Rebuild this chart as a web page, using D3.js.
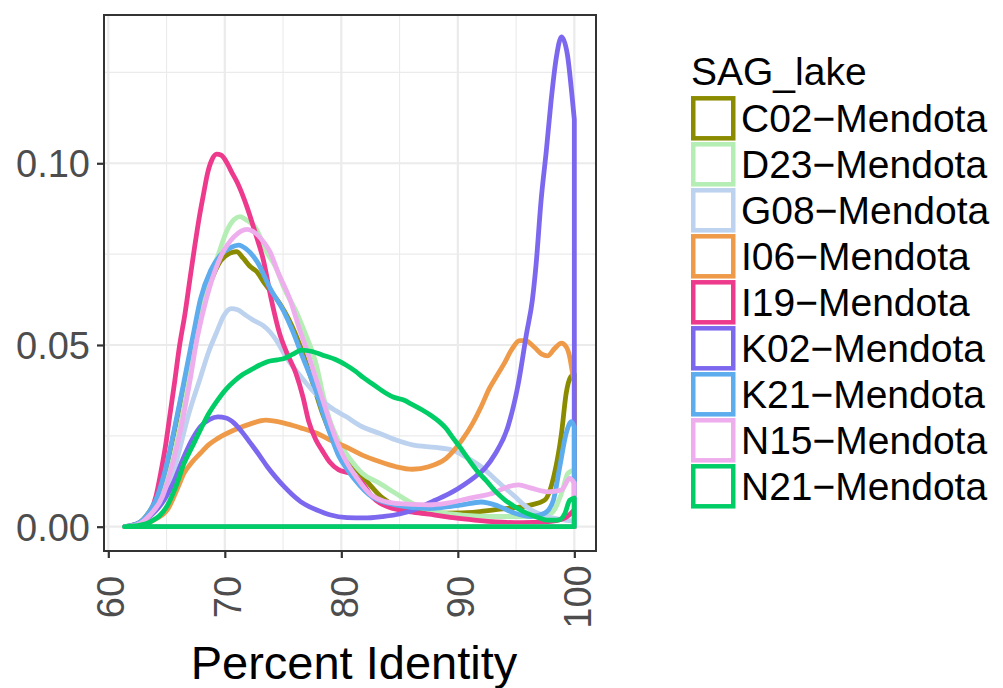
<!DOCTYPE html>
<html>
<head>
<meta charset="utf-8">
<script src="https://cdn.jsdelivr.net/npm/d3@7"></script>
<style>
  body { margin: 0; background: #fff; }
  text { font-family: "Liberation Sans", Arial, Helvetica, sans-serif; }
</style>
</head>
<body>
<div id="chart"></div>
<script>
// ---------- data ----------
const sagLake = ["C02\u2212Mendota", "D23\u2212Mendota", "G08\u2212Mendota", "I06\u2212Mendota",
  "I19\u2212Mendota", "K02\u2212Mendota", "K21\u2212Mendota", "N15\u2212Mendota", "N21\u2212Mendota"];
const lineColors = ["#8B8B00", "#B4EEB4", "#BCD2EE", "#EE9A49", "#EE3A8C", "#7B68EE", "#5CACEE", "#EEAEEE", "#00CD66"];
const xTicks = [60, 70, 80, 90, 100];
const xMinor = [65, 75, 85, 95];
const yTicks = [0, 0.05, 0.10];
const yMinor = [0.025, 0.075, 0.125];
const identityRange = [61.4, 100];

// [percent identity, density]
const c02 = [[61.4,0],[62.5,0.0008],[63.5,0.004],[64.2,0.008],[65,0.0165],[65.65,0.026],[66.5,0.039],[67.3,0.051],
  [67.9,0.059],[68.8,0.0675],[69.65,0.0732],[70.4,0.0752],[71.0,0.0757],[71.6,0.0738],[72.2,0.0715],[72.7,0.0703],
  [73.4,0.067],[74.0,0.0645],[74.7,0.0615],[75.5,0.057],[76.5,0.0495],[77.5,0.040],[78.4,0.031],[79.3,0.024],
  [80.4,0.018],[80.95,0.0168],[82.1,0.0128],[83.5,0.008],[85,0.0052],[87.5,0.0037],[90.35,0.0038],[93.25,0.0047],
  [96.3,0.006],[97.45,0.0073],[98.3,0.0147],[98.9,0.0257],[99.3,0.0367],[99.7,0.0413],[100,0.042]];
const d23 = [[61.4,0],[62.5,0.0006],[63.5,0.003],[64.6,0.0085],[65.5,0.018],[66.2,0.028],[67,0.042],[67.6,0.053],
  [68.2,0.062],[68.8,0.069],[69.4,0.0745],[70.2,0.0816],[70.8,0.0845],[71.3,0.0853],[71.8,0.0845],[72.6,0.0824],
  [73.65,0.0752],[74.4,0.0712],[75.1,0.0655],[76.2,0.0587],[76.8,0.054],[77.9,0.044],[78.4,0.0367],[79,0.0294],
  [79.7,0.024],[80.4,0.0202],[81.1,0.0172],[81.8,0.0147],[83.25,0.012],[84.65,0.0092],[86.1,0.0064],[87.5,0.0046],
  [88.9,0.0037],[90.35,0.0032],[93.2,0.0028],[96.3,0.0028],[98,0.0037],[98.9,0.0092],[99.45,0.0147],[100,0.0156]];
const g08 = [[61.4,0],[62.5,0.0005],[63.5,0.0025],[64.2,0.005],[64.9,0.0083],[65.8,0.0174],[66.9,0.031],[67.9,0.041],
  [68.6,0.048],[69.3,0.0535],[69.9,0.058],[70.55,0.060],[71.1,0.0597],[71.65,0.0585],[72.4,0.0569],[73.3,0.0553],
  [73.9,0.0535],[74.4,0.0514],[75.2,0.047],[75.9,0.0438],[76.6,0.041],[77.5,0.0376],[79.0,0.033],[80.4,0.0303],
  [81.8,0.0275],[83.25,0.0257],[84.65,0.0239],[86.1,0.0225],[88.1,0.0218],[89.5,0.0211],[90.4,0.0197],[91.2,0.0182],
  [92.0,0.0165],[93.3,0.0128],[94.1,0.0105],[94.9,0.0083],[95.6,0.0062],[96.3,0.0046],[97.7,0.0028],[99.2,0.0018],[100,0.0015]];
const i06 = [[61.4,0],[63,0.0006],[64,0.002],[65.1,0.0048],[66,0.011],[66.5,0.0147],[67.2,0.0178],[67.9,0.0202],
  [68.6,0.0225],[69.4,0.0243],[70.8,0.0266],[72.2,0.0283],[73.5,0.0293],[75.1,0.0285],[76.5,0.0272],[77.9,0.0257],
  [79,0.0239],[80.5,0.0218],[81.8,0.0197],[83.2,0.018],[84.7,0.0165],[86.1,0.0158],[87.5,0.0165],[89,0.0188],
  [90.4,0.024],[91.2,0.028],[92,0.033],[92.7,0.038],[93.4,0.0418],[94.0,0.045],[94.6,0.0486],[95.3,0.0512],
  [95.8,0.0512],[96.6,0.0493],[97.2,0.0475],[97.7,0.047],[98.3,0.049],[98.9,0.0505],[99.3,0.0495],[99.6,0.0468],
  [99.85,0.0422],[100,0.040]];
const i19 = [[61.4,0],[62.5,0.0004],[63,0.0012],[63.6,0.004],[64.1,0.0085],[64.5,0.0148],[64.9,0.022],[65.3,0.031],
  [65.7,0.040],[66.1,0.0495],[66.6,0.059],[67.0,0.068],[67.4,0.0768],[67.8,0.085],[68.2,0.092],[68.5,0.097],
  [68.9,0.101],[69.3,0.1025],[69.7,0.1022],[70.2,0.100],[70.6,0.0975],[71.1,0.0945],[71.9,0.088],[72.6,0.081],
  [73.3,0.0735],[74.0,0.0624],[74.7,0.0532],[75.3,0.048],[76.1,0.0422],[76.7,0.0358],[77.2,0.029],[77.8,0.024],
  [78.35,0.021],[79.0,0.0178],[79.75,0.0157],[80.4,0.015],[80.9,0.0146],[81.75,0.0122],[82.65,0.0082],[83.3,0.0065],
  [84.05,0.0054],[86.15,0.004],[88.05,0.0032],[89.75,0.0024],[91.45,0.0018],[93.25,0.0013],[95.5,0.0011],
  [97.5,0.0013],[99.2,0.0024],[100,0.0046]];
const k02 = [[61.4,0],[62.5,0.0008],[63.6,0.003],[64.5,0.006],[65.5,0.0115],[66.5,0.0193],[67.2,0.024],[67.9,0.0275],
  [68.7,0.0295],[69.4,0.0302],[70.1,0.0299],[70.8,0.0285],[71.5,0.026],[72.2,0.023],[73,0.0195],[73.65,0.0165],
  [74.4,0.0135],[75.1,0.011],[75.8,0.0088],[76.5,0.0069],[77.2,0.0056],[77.9,0.0046],[79,0.0033],[80.5,0.0025],
  [82,0.0024],[83.5,0.0028],[85,0.0035],[86.2,0.0046],[88,0.0072],[89.5,0.0095],[90.5,0.0115],[91.5,0.0138],
  [92.3,0.016],[93.2,0.020],[94.3,0.0275],[95.2,0.0395],[95.9,0.0532],[96.4,0.0624],[96.7,0.0715],[97.15,0.0899],
  [97.6,0.1036],[98,0.117],[98.45,0.129],[98.9,0.1348],[99.4,0.130],[99.85,0.117],[100,0.112]];
const k21 = [[61.4,0],[62.5,0.0008],[63.5,0.004],[64.2,0.0083],[65,0.017],[65.65,0.0266],[66.5,0.040],[67.3,0.053],
  [67.9,0.0625],[68.8,0.0706],[69.65,0.0748],[70.5,0.0768],[71.2,0.0775],[71.8,0.0765],[72.8,0.0728],[73.9,0.0655],
  [75.1,0.059],[75.8,0.054],[76.7,0.0465],[77.9,0.0367],[78.4,0.0315],[79.1,0.025],[79.8,0.0193],[80.5,0.0158],
  [81.2,0.0128],[82.6,0.0083],[84.65,0.006],[87.5,0.005],[90.35,0.006],[92.0,0.0068],[93.45,0.0057],[94.9,0.0037],
  [96.3,0.0028],[97.45,0.0037],[98.2,0.0073],[98.75,0.0165],[99.3,0.0257],[99.75,0.0289],[100,0.0275]];
const n15 = [[61.4,0],[62.5,0.0006],[63.5,0.003],[64.65,0.0083],[65.5,0.017],[66.2,0.0266],[67,0.040],[67.6,0.0514],
  [68.1,0.0587],[68.8,0.067],[69.65,0.0743],[70.8,0.0798],[71.9,0.0818],[72.7,0.0806],[73.4,0.078],[73.9,0.0755],
  [74.5,0.0705],[75.6,0.0625],[76.5,0.0535],[77.0,0.049],[77.6,0.043],[78.4,0.035],[79.1,0.028],[79.8,0.022],
  [80.5,0.0175],[81.25,0.0138],[82.65,0.0085],[84.65,0.0064],[87.5,0.006],[88.95,0.0064],[90.95,0.0078],
  [93.25,0.0095],[94.3,0.011],[95.2,0.0115],[96.3,0.0106],[97.7,0.0096],[98.9,0.0101],[99.6,0.0133],[100,0.012]];
const n21 = [[61.4,0],[62.5,0.0003],[63.65,0.0014],[64.4,0.003],[65.1,0.006],[65.8,0.011],[66.5,0.0174],[67.2,0.022],
  [67.9,0.0266],[68.6,0.031],[69.4,0.0349],[70.1,0.0378],[70.8,0.040],[71.5,0.0418],[72.2,0.0431],[73.0,0.0445],
  [73.65,0.0454],[74.5,0.0459],[75.1,0.0463],[75.8,0.0474],[76.6,0.0486],[77.5,0.0482],[78.4,0.0472],[79.5,0.046],
  [80.4,0.0445],[81.2,0.0428],[81.9,0.041],[82.8,0.039],[83.8,0.0368],[84.5,0.0356],[85.3,0.0349],[86.1,0.0336],
  [86.95,0.0321],[87.7,0.0306],[88.4,0.0289],[89,0.027],[89.5,0.0248],[90.2,0.0218],[90.95,0.0184],[91.7,0.0152],
  [92.4,0.0128],[93.3,0.0095],[94.1,0.0072],[94.9,0.0055],[95.6,0.0042],[96.3,0.0032],[97.0,0.0024],[97.7,0.0018],
  [98.6,0.0018],[99.2,0.0037],[99.6,0.0073],[100,0.0079]];

const densities = [c02, d23, g08, i06, i19, k02, k21, n15, n21];

// ---------- layout ----------
const width = 1003, height = 688;
const panel = {left: 104, right: 596, top: 15, bottom: 551};

const x = d3.scaleLinear().domain([59.63, 101.86]).range([panel.left, panel.right]);
const y = d3.scaleLinear().domain([-0.00669, 0.1408]).range([panel.bottom, panel.top]);

const svg = d3.select("#chart").append("svg")
  .attr("width", width)
  .attr("height", height)
  .style("background", "#fff");

// grid
const grid = svg.append("g");
grid.selectAll("line.xminor").data(xMinor).join("line")
  .attr("x1", d => x(d)).attr("x2", d => x(d))
  .attr("y1", panel.top).attr("y2", panel.bottom)
  .attr("stroke", "#EBEBEB").attr("stroke-width", 1.1);
grid.selectAll("line.yminor").data(yMinor).join("line")
  .attr("x1", panel.left).attr("x2", panel.right)
  .attr("y1", d => y(d)).attr("y2", d => y(d))
  .attr("stroke", "#EBEBEB").attr("stroke-width", 1.1);
grid.selectAll("line.xmajor").data(xTicks).join("line")
  .attr("x1", d => x(d)).attr("x2", d => x(d))
  .attr("y1", panel.top).attr("y2", panel.bottom)
  .attr("stroke", "#EBEBEB").attr("stroke-width", 2.2);
grid.selectAll("line.ymajor").data(yTicks).join("line")
  .attr("x1", panel.left).attr("x2", panel.right)
  .attr("y1", d => y(d)).attr("y2", d => y(d))
  .attr("stroke", "#EBEBEB").attr("stroke-width", 2.2);

// density outlines (closed polygons like geom_density)
const line = d3.line()
  .x(d => x(d[0]))
  .y(d => y(d[1]))
  .curve(d3.curveMonotoneX);

svg.append("g").selectAll("path")
  .data(densities)
  .join("path")
  .attr("d", d => line(d) + `L${x(identityRange[1])},${y(0)}L${x(identityRange[0])},${y(0)}Z`)
  .attr("fill", "none")
  .attr("stroke", (d, i) => lineColors[i])
  .attr("stroke-width", 4.8)
  .attr("stroke-linejoin", "round");

// panel border
svg.append("rect")
  .attr("x", panel.left).attr("y", panel.top)
  .attr("width", panel.right - panel.left).attr("height", panel.bottom - panel.top)
  .attr("fill", "none").attr("stroke", "#333333").attr("stroke-width", 2);

// axes
const xAxis = svg.append("g")
  .attr("transform", `translate(0,${panel.bottom})`)
  .call(d3.axisBottom(x).tickValues(xTicks).tickSize(7).tickPadding(0).tickFormat(d3.format("d")));
const yAxis = svg.append("g")
  .attr("transform", `translate(${panel.left},0)`)
  .call(d3.axisLeft(y).tickValues(yTicks).tickSize(7).tickPadding(7).tickFormat(d3.format(".2f")));

[xAxis, yAxis].forEach(a => {
  a.select(".domain").remove();
  a.selectAll(".tick line").attr("stroke", "#333333").attr("stroke-width", 2.2);
  a.selectAll(".tick text").attr("fill", "#4D4D4D").style("font-size", "38px");
});
yAxis.selectAll(".tick text").attr("dy", "0.36em");
xAxis.selectAll(".tick text")
  .attr("transform", "translate(2,46) rotate(-90)")
  .attr("text-anchor", "middle")
  .attr("y", 0).attr("dy", "0.36em");

svg.append("text")
  .attr("x", (panel.left + panel.right) / 2 + 4)
  .attr("y", 679)
  .attr("text-anchor", "middle")
  .attr("fill", "#000")
  .style("font-size", "47px")
  .text("Percent Identity");

// legend
const legend = svg.append("g").attr("transform", "translate(691,0)");
legend.append("text")
  .attr("x", 0).attr("y", 85)
  .style("font-size", "39px")
  .attr("fill", "#000")
  .text("SAG_lake");

const item = legend.selectAll("g.item").data(sagLake).join("g")
  .attr("class", "item")
  .attr("transform", (d, i) => `translate(0,${118.3 + i * 46})`);
item.append("rect")
  .attr("x", 2.25).attr("y", -20)
  .attr("width", 40).attr("height", 40)
  .attr("fill", "#fff")
  .attr("stroke", (d, i) => lineColors[i])
  .attr("stroke-width", 4.5);
item.append("text")
  .attr("x", 50).attr("y", 0).attr("dy", "0.36em")
  .style("font-size", "39px")
  .attr("fill", "#000")
  .text(d => d);
</script>
</body>
</html>
